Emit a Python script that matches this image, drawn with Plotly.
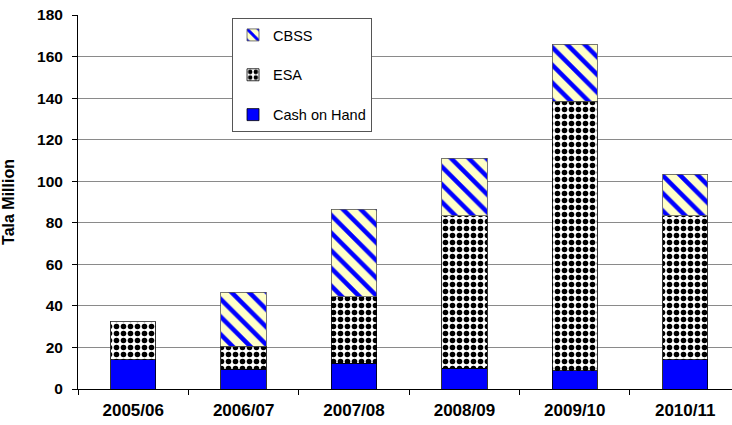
import plotly.graph_objects as go

years = ["2005/06", "2006/07", "2007/08", "2008/09", "2009/10", "2010/11"]
cash_on_hand = [14.1, 9.6, 12.5, 10.1, 8.8, 14.1]
esa = [18.4, 10.9, 32.0, 73.3, 129.7, 69.2]
cbss = [0.0, 26.1, 42.0, 27.6, 27.5, 20.0]

y_ticks = [0, 20, 40, 60, 80, 100, 120, 140, 160, 180]

FONT = "Liberation Sans, Arial, sans-serif"
BAR_W = 0.41
LINE = dict(color="#000000", width=0.8)

fig = go.Figure()
fig.add_trace(go.Bar(
    x=years, y=cash_on_hand, name="Cash on Hand", width=BAR_W,
    marker=dict(color="#0000FF", line=LINE),
    legendgroup="c", legendrank=3,
))
fig.add_trace(go.Bar(
    x=years, y=esa, name="ESA", width=BAR_W,
    marker=dict(color="#FFFFFF", line=LINE,
                pattern=dict(shape=".", fgcolor="#000000", bgcolor="#FFFFFF",
                             size=7, solidity=0.5, fillmode="replace",
                             fgopacity=1)),
    legendgroup="e", legendrank=2,
))
fig.add_trace(go.Bar(
    x=years, y=cbss, name="CBSS", width=BAR_W,
    marker=dict(color="#FFFFC8", line=dict(color="#555555", width=0.8),
                pattern=dict(shape="\\", fgcolor="#0000FF", bgcolor="#FFFFC8",
                             size=12.5, solidity=0.36, fillmode="replace",
                             fgopacity=1)),
    legendgroup="b", legendrank=1,
))

fig.update_layout(
    barmode="stack",
    width=732, height=425,
    margin=dict(l=78, r=0, t=15, b=36, autoexpand=False),
    paper_bgcolor="#FFFFFF",
    plot_bgcolor="#FFFFFF",
    font=dict(family=FONT, color="#000000"),
    showlegend=True,
    legend=dict(
        x=0.2355, y=0.992, xanchor="left", yanchor="top",
        bgcolor="#FFFFFF", bordercolor="#555555", borderwidth=1,
        traceorder="grouped", tracegroupgap=18,
        font=dict(family=FONT, size=14.5, color="#000000"),
    ),
    xaxis=dict(
        type="category",
        range=[-0.5, 5.424],
        tickson="boundaries",
        ticks="outside", ticklen=5, tickcolor="#000000", tickwidth=1,
        showline=True, linecolor="#000000", linewidth=1,
        showgrid=False, automargin=False,
        tickfont=dict(family=FONT, size=17, color="#000000", weight="bold"),
        ticklabelstandoff=6,
    ),
    yaxis=dict(
        range=[0, 180],
        tickvals=y_ticks,
        ticks="outside", ticklen=5, tickcolor="#000000", tickwidth=1,
        showline=True, linecolor="#000000", linewidth=1,
        showgrid=True, gridcolor="#8A8A8A", gridwidth=1,
        zeroline=False, automargin=True,
        ticklabeloverflow="allow",
        tickfont=dict(family=FONT, size=15.5, color="#000000", weight="bold"),
        ticklabelstandoff=6,
        title=dict(text="Tala Million", standoff=19,
                   font=dict(family=FONT, size=16, color="#000000", weight="bold")),
    ),
)

fig.write_html(
    "out.html",
    config={"displayModeBar": False},
    post_script="document.body.style.margin='0';document.body.style.overflow='hidden';",
)
